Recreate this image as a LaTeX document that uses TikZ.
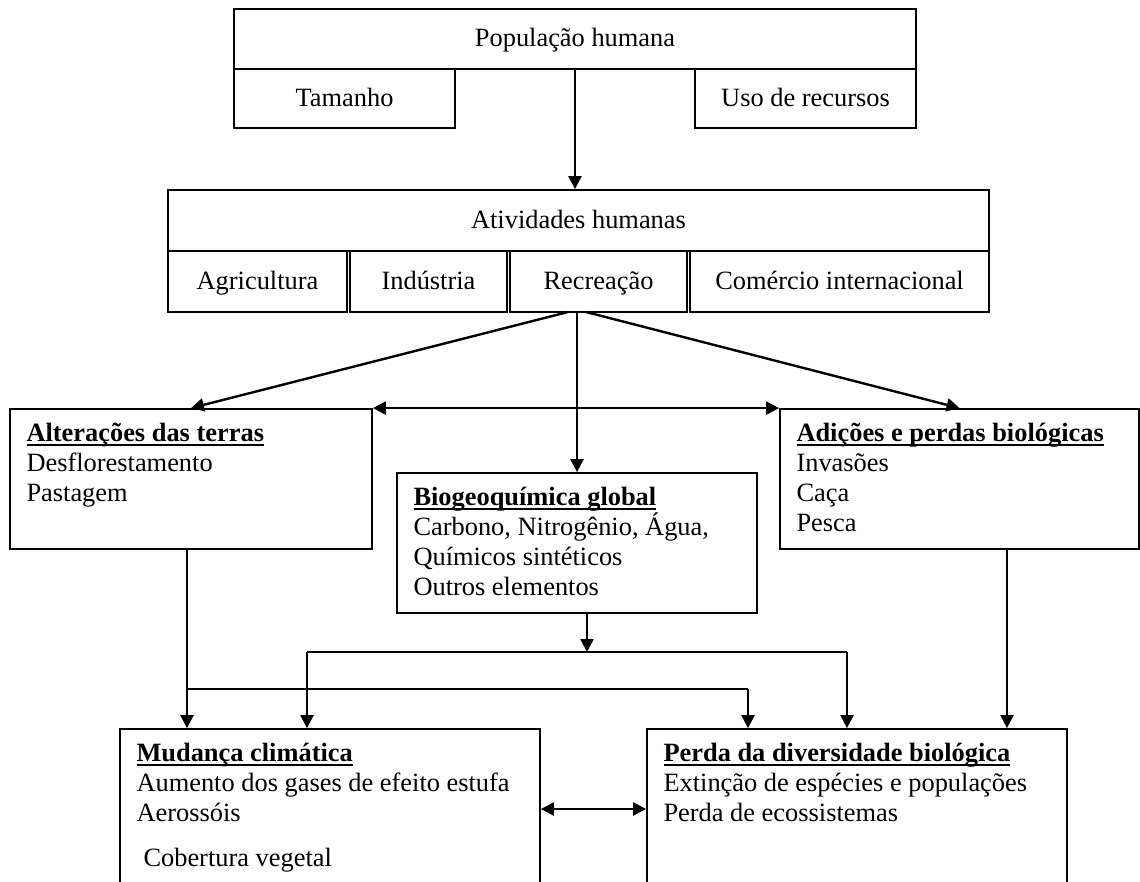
\documentclass[tikz,border=0pt]{standalone}
\usepackage{fontspec}
\setmainfont{Liberation Serif}
\usetikzlibrary{arrows.meta,calc,fit}

% bold heading with a heavy underline
\newcommand\headline[1]{\setbox0\hbox{\textbf{#1}}\rlap{\rule[-2.6pt]{\wd0}{1.1pt}}\box0}

\tikzset{
  txtfont/.style={font=\fontsize{13.2}{15}\selectfont},
  box/.style={draw=black, line width=0.9pt, inner sep=0pt},
  mid/.style={anchor=base, inner sep=0pt, txtfont},
  row/.style={anchor=base west, inner sep=0pt, txtfont},
  conn/.style={line width=1.2pt, -{Triangle[width=6.5pt,length=6.5pt]}},
  twoway/.style={line width=1.2pt, {Triangle[width=6.5pt,length=6.5pt]}-{Triangle[width=6.5pt,length=6.5pt]}},
  wire/.style={line width=1.2pt},
}

\begin{document}
\begin{tikzpicture}[x=0.5pt,y=-0.5pt]
\useasboundingbox (0,0) rectangle (1140,882);
\clip (0,0) rectangle (1140,882);

% human population
\node[box, fit={(234,9)(916,69)}] (pop) {};
\node[box, fit={(234,69)(455,128)}] (tam) {};
\node[box, fit={(695,69)(916,128)}] (uso) {};
\node[mid] (popt) at ($(pop.center)+(0,8)$) {População humana};
\node[mid] (tamt) at ($(tam.center)+(0,8)$) {Tamanho};
\node[mid] (usot) at ($(uso.center)+(0,8)$) {Uso de recursos};

% human activities
\node[box, fit={(168,190)(989,251)}] (atv) {};
\node[box, fit={(168,251)(347,312)}] (agr) {};
\node[box, fit={(350,251)(507,312)}] (ind) {};
\node[box, fit={(510,251)(687,312)}] (rec) {};
\node[box, fit={(690,251)(989,312)}] (com) {};
\node[mid] (atvt) at ($(atv.center)+(0,8)$) {Atividades humanas};
\node[mid] (agrt) at ($(agr.center)+(0,8)$) {Agricultura};
\node[mid] (indt) at ($(ind.center)+(0,8)$) {Indústria};
\node[mid] (rect) at ($(rec.center)+(0,8)$) {Recreação};
\node[mid] (comt) at ($(com.center)+(0,8)$) {Comércio internacional};

% middle row
\node[box, fit={(10,409)(372,549)}] (alt) {};
\node[box, fit={(780,409)(1139,549)}] (adi) {};
\node[box, fit={(397,473)(757,613)}] (bio) {};

% bottom row
\node[box, fit={(120,729)(540,900)}] (mud) {};
\node[box, fit={(647,729)(1067,900)}] (per) {};

% box contents
\node[row] (alt1) at ($(alt.north west)+(17,33)$) {\headline{Alterações das terras}};
\node[row] (alt2) at ($(alt.north west)+(17,63)$) {Desflorestamento};
\node[row] (alt3) at ($(alt.north west)+(17,93)$) {Pastagem};

\node[row] (adi1) at ($(adi.north west)+(17,33)$) {\headline{Adições e perdas biológicas}};
\node[row] (adi2) at ($(adi.north west)+(17,63)$) {Invasões};
\node[row] (adi3) at ($(adi.north west)+(17,93)$) {Caça};
\node[row] (adi4) at ($(adi.north west)+(17,123)$) {Pesca};

\node[row] (bio1) at ($(bio.north west)+(17,33)$) {\headline{Biogeoquímica global}};
\node[row] (bio2) at ($(bio.north west)+(17,63)$) {Carbono, Nitrogênio, Água,};
\node[row] (bio3) at ($(bio.north west)+(17,93)$) {Químicos sintéticos};
\node[row] (bio4) at ($(bio.north west)+(17,123)$) {Outros elementos};

\node[row] (mud1) at ($(mud.north west)+(17,33)$) {\headline{Mudança climática}};
\node[row] (mud2) at ($(mud.north west)+(17,63)$) {Aumento dos gases de efeito estufa};
\node[row] (mud3) at ($(mud.north west)+(17,93)$) {Aerossóis};
\node[row] (mud4) at ($(mud.north west)+(24,138)$) {Cobertura vegetal};

\node[row] (per1) at ($(per.north west)+(17,33)$) {\headline{Perda da diversidade biológica}};
\node[row] (per2) at ($(per.north west)+(17,63)$) {Extinção de espécies e populações};
\node[row] (per3) at ($(per.north west)+(17,93)$) {Perda de ecossistemas};

% population -> activities
\draw[conn] (pop.south) -- (pop.south |- atv.north);

% activities -> the three drivers
\coordinate (fork)  at (577,312);
\coordinate (forkL) at (568,312);
\coordinate (forkR) at (586,312);
\draw[conn] (forkL) -- (alt.north);
\draw[conn] (forkR) -- (adi.north);
\draw[conn] (fork) -- (fork |- bio.north);
\draw[twoway] (alt.north east) -- (adi.north west);

% biogeochemistry -> both outcomes
\coordinate (hub) at (587,652);
\coordinate (hubL) at (307,652);
\coordinate (hubR) at (847,652);
\draw[conn] (hub |- bio.south) -- (hub);
\draw[wire] (hubL) -- (hubR);
\draw[conn] (hubL) -- (hubL |- mud.north);
\draw[conn] (hubR) -- (hubR |- per.north);

% land change -> both outcomes
\coordinate (landL) at (187,689);
\coordinate (landR) at (748,689);
\draw[conn] (landL |- alt.south) -- (landL |- mud.north);
\draw[wire] (landL) -- (landR);
\draw[conn] (landR) -- (landR |- per.north);

% biotic additions/losses -> biodiversity loss
\coordinate (bioticX) at (1007,0);
\draw[conn] (bioticX |- adi.south) -- (bioticX |- per.north);

% climate <-> biodiversity
\coordinate (link) at (0,809);
\draw[twoway] (mud.east |- link) -- (per.west |- link);
\end{tikzpicture}
\end{document}
